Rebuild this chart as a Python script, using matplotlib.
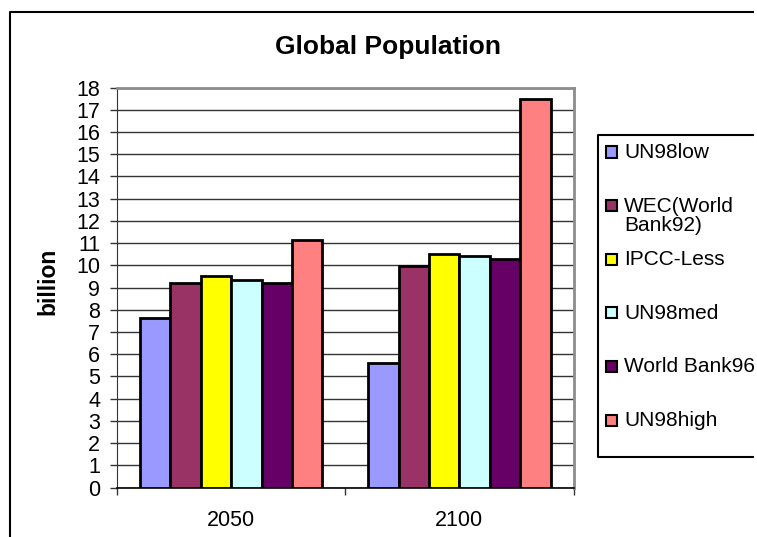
import matplotlib
matplotlib.use("Agg")
import matplotlib.pyplot as plt
from matplotlib.patches import Rectangle
from matplotlib.lines import Line2D
import numpy as np

plt.rcParams['font.family'] = ['Liberation Sans', 'DejaVu Sans']

years = ['2050', '2100']
series = ['UN98low', 'WEC(World\nBank92)', 'IPCC-Less', 'UN98med', 'World Bank96', 'UN98high']
colors = ['#9999FF', '#993366', '#FFFF00', '#CCFFFF', '#660066', '#FF8080']
un98low = [7.65, 5.6]
wec = [9.2, 9.95]
ipcc_less = [9.5, 10.5]
un98med = [9.35, 10.42]
world_bank96 = [9.2, 10.3]
un98high = [11.15, 17.5]
values = [un98low, wec, ipcc_less, un98med, world_bank96, un98high]

W, H = 757, 537
fig = plt.figure(figsize=(W / 100, H / 100), dpi=100)

# plot area in pixel coordinates
left, right, top, bottom = 117, 573.5, 87.5, 487.5
ax = fig.add_axes([left / W, (H - bottom) / H, (right - left) / W, (bottom - top) / H])

x = np.arange(len(years))
bw = 0.8 / len(series)
for i, (vals, c) in enumerate(zip(values, colors)):
    ax.bar(x - 0.4 + bw * (i + 0.5), vals, width=bw, color=c,
           edgecolor='black', linewidth=2, zorder=3)

ax.set_xlim(-0.5, 1.5)
ax.set_ylim(0, 18)
ax.set_yticks(range(0, 19))
ax.yaxis.grid(True, color='#333333', linewidth=1, zorder=0)
ax.tick_params(axis='y', labelsize=15.5, length=5, width=1, pad=7, color='#333333')

ax.set_xticks(x, years)
ax.set_xticks([-0.5, 0.5, 1.5], minor=True)
ax.tick_params(axis='x', which='major', length=0, labelsize=15.5, pad=16)
ax.tick_params(axis='x', which='minor', length=5, width=1, color='#333333')

for s in ['top', 'right']:
    ax.spines[s].set_color('#8c8c8c')
    ax.spines[s].set_linewidth(2)
ax.spines['left'].set_color('#333333')
ax.spines['bottom'].set_color('black')
ax.spines['bottom'].set_linewidth(1.2)

fig.text(388 / W, 1 - 47 / H, 'Global Population', ha='center', va='center',
         fontsize=19, fontweight='bold')
fig.text(48 / W, 1 - 281 / H, 'billion', ha='center', va='center',
         rotation=90, fontsize=16.5, fontweight='bold')


def fig_line(xs, ys):
    # open polyline given in pixel coordinates (y measured from the top)
    fig.add_artist(Line2D([v / W for v in xs], [1 - v / H for v in ys],
                          transform=fig.transFigure, color='black',
                          linewidth=1.5, solid_capstyle='butt'))


# chart frame, running off the right and bottom edges
fig_line([9.5, 9.5, W - 3], [H, 12, 12])

# legend box, cut off on the right
lx0, ly0, ly1 = 598, 135, 457
fig_line([W - 3, lx0, lx0, W - 3], [ly0, ly0, ly1, ly1])

y = 152
for name, c in zip(series, colors):
    fig.patches.append(Rectangle((606 / W, (H - y - 5.5) / H), 11 / W, 11 / H,
                                 transform=fig.transFigure, facecolor=c,
                                 edgecolor='black', linewidth=1.5))
    fig.text(624 / W, 1 - (y - 9) / H, name, ha='left', va='top',
             fontsize=15, linespacing=1.0)
    y += 53.6

fig.savefig('out.png', dpi=100)
